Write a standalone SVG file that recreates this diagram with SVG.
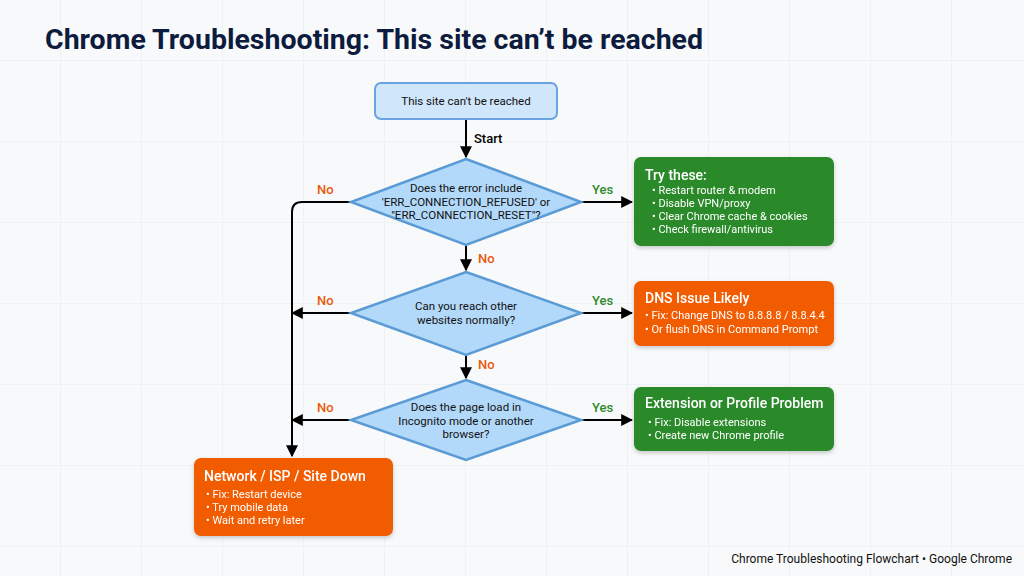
<svg xmlns="http://www.w3.org/2000/svg" width="1024" height="576" viewBox="0 0 1024 576">
<defs>
<pattern id="grid" width="81" height="81" patternUnits="userSpaceOnUse" x="-20" y="-20"><path d="M81 0V81H0" fill="none" stroke="#e6eaee" stroke-width="1"/></pattern>
<marker id="ah" viewBox="0 0 10 10" refX="9" refY="5" markerWidth="6" markerHeight="6" orient="auto" markerUnits="strokeWidth"><path d="M0 0L10 5L0 10z" fill="#000"/></marker>
<filter id="sh" x="-10%" y="-10%" width="120%" height="130%"><feDropShadow dx="0" dy="2" stdDeviation="2" flood-opacity="0.2"/></filter>
</defs>
<style>
text{font-family:Roboto,"Liberation Sans",sans-serif}
.d{fill:#b3d9fa;stroke:#5b9bd5;stroke-width:2.5}
.t{font-size:11.5px;fill:#111;text-anchor:middle}
.c{stroke:#000;stroke-width:2;fill:none}
.no{font-size:13px;fill:#e8590c;font-weight:500}
.yes{font-size:13px;fill:#2e8b2e;font-weight:500}
.h{font-size:14px;font-weight:500;fill:#fff}
.b{font-size:11px;fill:#fff}
</style>
<rect width="1024" height="576" fill="#f8f9fa"/>
<rect width="1024" height="576" fill="url(#grid)"/>
<text x="45" y="49" font-size="28.5" font-weight="bold" fill="#0d1b3e">Chrome Troubleshooting: This site can’t be reached</text>
<g id="connectors">
<path class="c" d="M466 119V157" marker-end="url(#ah)"/>
<text x="474" y="143" font-size="13" font-weight="500">Start</text>
<path class="c" d="M581 202H632" marker-end="url(#ah)"/>
<path class="c" d="M351 202H302Q292 202 292 212V456" marker-end="url(#ah)"/>
<path class="c" d="M466 245V270" marker-end="url(#ah)"/>
<path class="c" d="M581 313H632" marker-end="url(#ah)"/>
<path class="c" d="M351 313H292" marker-end="url(#ah)"/>
<path class="c" d="M466 355V378" marker-end="url(#ah)"/>
<path class="c" d="M581 420H632" marker-end="url(#ah)"/>
<path class="c" d="M351 420H292" marker-end="url(#ah)"/>
<text class="no" x="317" y="194">No</text>
<text class="yes" x="592" y="194">Yes</text>
<text class="no" x="478" y="263">No</text>
<text class="no" x="317" y="305">No</text>
<text class="yes" x="592" y="305">Yes</text>
<text class="no" x="478" y="369">No</text>
<text class="no" x="317" y="412">No</text>
<text class="yes" x="592" y="412">Yes</text>
</g>
<g id="start"><rect x="375" y="83" width="182" height="36" rx="6" fill="#cfe6fb" stroke="#6aa3e0" stroke-width="2"/><text class="t" x="466" y="105" font-size="12.5">This site can't be reached</text></g>
<g id="q1"><polygon class="d" points="466,159 581,202 466,245 351,202"/><text class="t" x="466" y="192">Does the error include</text><text class="t" x="466" y="206">'ERR_CONNECTION_REFUSED' or</text><text class="t" x="466" y="219">"ERR_CONNECTION_RESET"?</text></g>
<g id="q2"><polygon class="d" points="466,272 581,313 466,355 351,313"/><text class="t" x="466" y="310">Can you reach other</text><text class="t" x="466" y="324">websites normally?</text></g>
<g id="q3"><polygon class="d" points="466,380 581,420 466,460 351,420"/><text class="t" x="466" y="411">Does the page load in</text><text class="t" x="466" y="425">Incognito mode or another</text><text class="t" x="466" y="438">browser?</text></g>
<g id="try" filter="url(#sh)"><rect x="634" y="157" width="200" height="89" rx="7" fill="#2b8a2b"/><text class="h" x="645" y="180">Try these:</text><text class="b" x="652" y="194">• Restart router &amp; modem</text><text class="b" x="652" y="207">• Disable VPN/proxy</text><text class="b" x="652" y="220">• Clear Chrome cache &amp; cookies</text><text class="b" x="652" y="233">• Check firewall/antivirus</text></g>
<g id="dns" filter="url(#sh)"><rect x="634" y="281" width="200" height="65" rx="7" fill="#f25c05"/><text class="h" x="645" y="303">DNS Issue Likely</text><text class="b" x="645" y="319">• Fix: Change DNS to 8.8.8.8 / 8.8.4.4</text><text class="b" x="645" y="333">• Or flush DNS in Command Prompt</text></g>
<g id="ext" filter="url(#sh)"><rect x="634" y="387" width="200" height="64" rx="7" fill="#2b8a2b"/><text class="h" x="645" y="408">Extension or Profile Problem</text><text class="b" x="648" y="426">• Fix: Disable extensions</text><text class="b" x="648" y="439">• Create new Chrome profile</text></g>
<g id="net" filter="url(#sh)"><rect x="194" y="458" width="199" height="78" rx="7" fill="#f25c05"/><text class="h" x="204" y="481">Network / ISP / Site Down</text><text class="b" x="206" y="498">• Fix: Restart device</text><text class="b" x="206" y="511">• Try mobile data</text><text class="b" x="206" y="524">• Wait and retry later</text></g>
<text x="1012" y="563" font-size="12" fill="#111" text-anchor="end">Chrome Troubleshooting Flowchart • Google Chrome</text>
</svg>
